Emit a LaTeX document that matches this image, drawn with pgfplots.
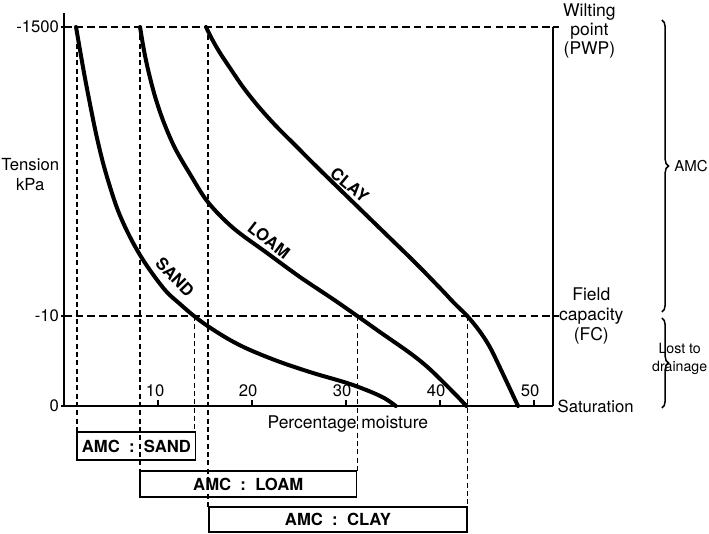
\documentclass[border=0pt]{standalone}
\usepackage{pgfplots}
\pgfplotsset{compat=1.18}
\usepackage{fontspec}
\setmainfont{TeX Gyre Heros}
\usetikzlibrary{decorations.pathreplacing}

\begin{document}
\begin{tikzpicture}[font=\fontsize{10}{12}\selectfont, lbl/.style={inner sep=0.5pt}]
\begin{axis}[
  x=5.64pt, y=0.6pt,
  xmin=0, xmax=52, ymin=0, ymax=393,
  axis x line=bottom, axis y line=left,
  axis line style={-, line width=1.1pt},
  xtick=\empty,
  ytick={0,90,379}, yticklabels={0,-10,-1500},
  tick align=outside,
  major tick length=2pt,
  tick style={line width=0.8pt, black},
  yticklabel style={font=\fontsize{10}{12}\selectfont, xshift=2.5pt},
  clip=false,
  /pgf/number format/assume math mode=true,
]
% bounding box of the whole picture
\path (axis cs:-6.81,406) rectangle (axis cs:68.62,-128);

% right axis line
\draw[line width=1.1pt] (axis cs:52,0) -- (axis cs:52,379);
\draw[line width=0.9pt] (axis cs:52,379) -- (axis cs:52.7,379);
\draw[line width=0.9pt] (axis cs:52,90) -- (axis cs:52.7,90);

% x ticks
\draw[line width=0.8pt] (axis cs:10,0) -- (axis cs:10,6);
\draw[line width=0.8pt] (axis cs:20,0) -- (axis cs:20,6);
\draw[line width=0.8pt] (axis cs:30,0) -- (axis cs:30,6);
\draw[line width=0.8pt] (axis cs:40,0) -- (axis cs:40,6);
\draw[line width=0.8pt] (axis cs:50,0) -- (axis cs:50,6);
\node[anchor=south] at (axis cs:9.7,3) {10};
\node[anchor=south] at (axis cs:19.6,3) {20};
\node[anchor=south] at (axis cs:29.6,3) {30};
\node[anchor=south] at (axis cs:39.6,3) {40};
\node[anchor=south] at (axis cs:49.6,3) {50};

% horizontal dashed lines
\draw[line width=1.2pt, dash pattern=on 4.5pt off 2.5pt] (axis cs:0,379) -- (axis cs:52,379);
\draw[line width=1.2pt, dash pattern=on 4.5pt off 2.5pt] (axis cs:0,90) -- (axis cs:52,90);

% vertical dashed lines
\draw[line width=0.9pt, dash pattern=on 3pt off 2pt] (axis cs:1.4,379) -- (axis cs:1.4,-26);
\draw[line width=0.9pt, dash pattern=on 3pt off 2pt] (axis cs:8.1,379) -- (axis cs:8.1,-65);
\draw[line width=0.9pt, dash pattern=on 3pt off 2pt] (axis cs:15.3,379) -- (axis cs:15.3,-101);
\draw[line width=0.9pt, dash pattern=on 3pt off 2pt] (axis cs:13.9,90) -- (axis cs:13.9,-26);
\draw[line width=0.9pt, dash pattern=on 3pt off 2pt] (axis cs:31.2,90) -- (axis cs:31.2,-65);
\draw[line width=0.9pt, dash pattern=on 3pt off 2pt] (axis cs:42.9,90) -- (axis cs:42.9,-101);

% curves
\addplot[line width=2.4pt, line cap=round, smooth, tension=0.55] coordinates {
(1.28,379) (1.7,356) (2.23,328) (2.87,297) (3.51,268) (4.36,236) (5.64,198)
(7.02,169) (8.62,143) (10.74,116) (12.34,102) (13.83,90) (15.43,79) (17.66,66)
(19.79,56) (22.98,44) (26.49,33) (30.11,23) (32.55,14.5) (34.15,7.5) (35.3,0)};
\addplot[line width=2.4pt, line cap=round, smooth, tension=0.55] coordinates {
(8.09,379) (8.5,356) (9.0,334) (9.7,309) (10.6,284) (11.8,258) (13.4,232)
(15.3,204) (18.0,178) (21.6,153) (25.1,129) (28.6,107) (31.2,90) (33.6,74)
(36.8,53) (38.9,37) (41.6,12) (42.8,0)};
\addplot[line width=2.4pt, line cap=round, smooth, tension=0.55] coordinates {
(15.11,379) (15.74,367) (16.60,353) (17.66,338) (19.04,319) (20.64,300) (22.45,281)
(24.57,261) (26.91,239) (30.4,207) (33.9,175) (37.4,143) (40.2,116) (41.5,103)
(42.9,90) (44.2,75) (45.3,59) (46.5,36) (48.3,0)};

% curve labels
\node[lbl, rotate=-46, font=\fontsize{10}{12}\selectfont\bfseries] at (axis cs:11.8,129) {SAND};
\node[lbl, rotate=-38, font=\fontsize{10}{12}\selectfont\bfseries] at (axis cs:21.8,166) {LOAM};
\node[lbl, rotate=-40, font=\fontsize{10}{12}\selectfont\bfseries] at (axis cs:30.4,221) {CLAY};

% axis titles
\node[lbl, align=center] at (axis cs:-3.6,231) {Tension\\kPa};
\node[lbl, font=\fontsize{10.5}{12}\selectfont] at (axis cs:30.2,-18) {Percentage moisture};

% AMC boxes
\draw[line width=1pt] (axis cs:1.4,-26) rectangle (axis cs:14.0,-54);
\node[lbl, font=\fontsize{10}{12}\selectfont\bfseries] at (axis cs:7.7,-40) {AMC ~:~ SAND};
\draw[line width=1pt] (axis cs:8.1,-65) rectangle (axis cs:31.1,-91);
\node[lbl, font=\fontsize{10}{12}\selectfont\bfseries] at (axis cs:19.6,-78) {AMC ~:~ LOAM};
\draw[line width=1pt] (axis cs:15.4,-101) rectangle (axis cs:42.9,-126);
\node[lbl, font=\fontsize{10}{12}\selectfont\bfseries] at (axis cs:29.15,-113.5) {AMC ~:~ CLAY};

% right annotations
\node[lbl, align=center, font=\fontsize{10.5}{11.6}\selectfont] at (axis cs:55.9,375) {Wilting\\point\\(PWP)};
\node[lbl, align=center, font=\fontsize{10.5}{12}\selectfont] at (axis cs:56.1,90) {Field\\capacity\\(FC)};
\node[lbl, anchor=west] at (axis cs:52.4,0) {Saturation};
\draw[line width=0.9pt, decorate, decoration={brace, amplitude=4pt}] (axis cs:63.6,386) -- (axis cs:63.6,94);
\draw[line width=0.9pt, decorate, decoration={brace, amplitude=4pt}] (axis cs:63.6,88) -- (axis cs:63.6,-2);
\node[lbl, anchor=west, font=\fontsize{9}{11}\selectfont] at (axis cs:64.8,240) {AMC};
\node[lbl, align=center, anchor=east, font=\fontsize{8.5}{10.5}\selectfont] at (axis cs:68.55,47) {Lost to\\drainage};
\end{axis}
\end{tikzpicture}
\end{document}
